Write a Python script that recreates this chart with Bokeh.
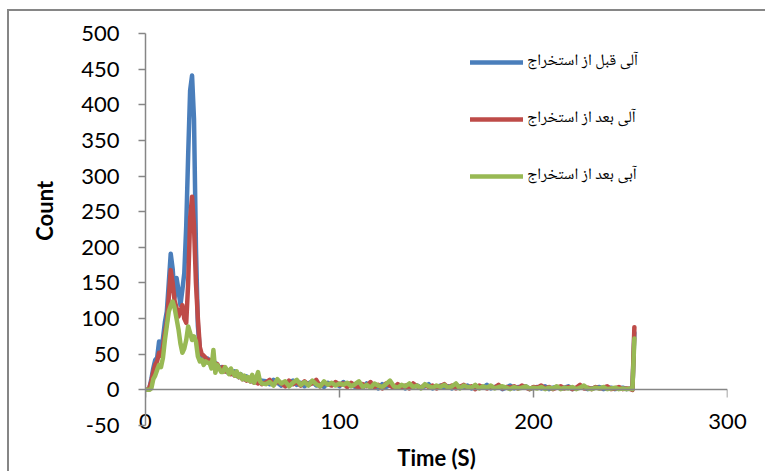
from bokeh.plotting import figure
from bokeh.models import (Range1d, LinearAxis, SingleIntervalTicker, Legend, LegendItem,
                          PrintfTickFormatter, ColumnDataSource)
from bokeh.embed import file_html
from bokeh.resources import INLINE

# ---------------- data ----------------
time_s = list(range(0, 61)) + list(range(62, 251, 2)) + [251, 252]

blue_head = [0, 0, 2, 15, 30, 42, 45, 68, 60, 72, 95, 110, 150, 191, 170, 130, 157, 140, 119, 140,
             164, 230, 330, 420, 441, 380, 200, 90, 56, 48, 45, 42, 44, 38, 40, 36, 38, 35, 30, 32,
             28, 30, 25, 27, 24, 22, 26, 20, 18, 22, 17, 15, 19, 14, 16, 12, 15, 11, 18, 10, 13]
blue_tail = [12, 8, 14, 10, 6, 11, 9, 13, 7, 10, 5, 9, 12, 6, 8, 4, 10, 7, 9, 5,
             11, 6, 8, 4, 7, 3, 9, 5, 6, 2, 8, 4, 7, 3, 6, 5, 2, 7, 4, 6, 3, 5, 8, 2, 4,
             6, 3, 5, 2, 7, 4, 3, 6, 2, 5, 4, 3, 7, 2, 4, 5, 1, 3, 6, 2, 4, 3, 5, 1, 3,
             4, 2, 5, 1, 3, 4, 2, 3, 5, 1, 2, 4, 3, 1, 2, 3, 4, 1, 2, 3, 1, 2, 3, 1, 2,
             1, 80]

red_head = [0, 0, 3, 12, 25, 35, 40, 52, 48, 60, 80, 95, 130, 168, 150, 125, 115, 103, 110, 119,
            100, 94, 150, 240, 271, 230, 150, 100, 60, 50, 48, 45, 40, 42, 38, 35, 33, 36, 30, 28,
            32, 26, 28, 24, 22, 25, 20, 22, 18, 20, 15, 17, 13, 16, 12, 14, 10, 13, 9, 12, 8]
red_tail = [10, 14, 7, 12, 9, 5, 13, 8, 11, 6, 12, 7, 9, 14, 5, 10, 8, 6, 11, 7,
            9, 4, 10, 6, 3, 8, 5, 11, 4, 7, 2, 9, 6, 3, 8, 4, 6, 2, 9, 5, 3, 7, 4, 6, 2,
            5, 8, 3, 6, 2, 4, 7, 3, 5, 1, 6, 4, 2, 5, 3, 7, 2, 4, 3, 5, 2, 6, 3, 1, 4,
            3, 6, 2, 4, 1, 3, 5, 2, 4, 1, 3, 7, 2, 3, 1, 4, 2, 3, 5, 1, 2, 4, 1, 2, 1,
            0, 88]

green_head = [0, 0, 0, 2, 15, 20, 28, 35, 32, 45, 70, 90, 110, 118, 124, 115, 100, 85, 65, 52,
              58, 70, 89, 80, 70, 75, 68, 47, 40, 42, 35, 40, 38, 38, 30, 56, 24, 35, 30, 25,
              25, 32, 28, 22, 30, 24, 20, 26, 18, 22, 15, 20, 14, 18, 12, 21, 10, 16, 25, 12, 9]
green_tail = [8, 11, 6, 15, 9, 12, 5, 10, 14, 7, 11, 6, 13, 8, 5, 12, 7, 10, 6, 9,
              7, 10, 5, 8, 12, 4, 7, 3, 9, 6, 4, 8, 13, 5, 3, 7, 5, 9, 4, 6, 2, 8, 5, 3, 6,
              4, 7, 3, 5, 9, 2, 6, 4, 3, 7, 2, 5, 3, 6, 2, 4, 5, 3, 1, 4, 2, 3, 5, 2, 3,
              2, 4, 1, 3, 2, 5, 1, 3, 2, 4, 1, 3, 6, 2, 1, 3, 2, 4, 1, 2, 3, 1, 2, 1, 2,
              1, 72]

series_names = ["آلی قبل از استخراج", "آلی بعد از استخراج", "آبی بعد از استخراج"]
series_colors = ["#4A7EBB", "#BE4B48", "#98B954"]
x_ticks_interval = 100
y_ticks_interval = 50

source = ColumnDataSource(dict(
    t=time_s,
    blue=blue_head + blue_tail,
    red=red_head + red_tail,
    green=green_head + green_tail,
))

AXIS = "#868686"
FONT = "Lato"

p = figure(width=758, height=462, output_backend="svg", toolbar_location=None,
           x_range=Range1d(0, 300), y_range=Range1d(-50, 500),
           x_axis_location=None, y_axis_location=None,
           min_border_left=136, min_border_right=40, min_border_top=22, min_border_bottom=48,
           styles={"border-left": "2px solid #868686", "border-top": "2px solid #868686",
                   "margin-left": "7px", "margin-top": "9px"})
p.outline_line_color = None
p.xgrid.visible = False
p.ygrid.visible = False

# y axis
yax = LinearAxis(ticker=SingleIntervalTicker(interval=y_ticks_interval, num_minor_ticks=0),
                 formatter=PrintfTickFormatter(format="%d"))
yax.axis_line_color = AXIS
yax.axis_line_width = 1.5
yax.major_tick_line_color = AXIS
yax.major_tick_line_width = 1.5
yax.major_tick_out = 7
yax.major_tick_in = 0
yax.minor_tick_line_color = None
yax.major_label_standoff = 19
yax.major_label_text_font = FONT
yax.major_label_text_font_size = "22px"
yax.major_label_text_color = "black"
yax.axis_label = "\u00a0" * 7 + "Count"
yax.axis_label_text_font = FONT
yax.axis_label_text_font_size = "22px"
yax.axis_label_text_font_style = "bold"
yax.axis_label_text_color = "black"
yax.axis_label_standoff = 20
p.add_layout(yax, "left")

# x axis labels (at bottom)
xlab = LinearAxis(ticker=SingleIntervalTicker(interval=x_ticks_interval, num_minor_ticks=0))
xlab.axis_line_color = None
xlab.major_tick_line_color = None
xlab.minor_tick_line_color = None
xlab.major_tick_out = 0
xlab.major_tick_in = 0
xlab.major_label_standoff = -12
xlab.major_label_text_font = FONT
xlab.major_label_text_font_size = "22px"
xlab.major_label_text_color = "black"
xlab.axis_label = "Time (S)"
xlab.axis_label_text_font = FONT
xlab.axis_label_text_font_size = "22px"
xlab.axis_label_text_font_style = "bold"
xlab.axis_label_text_color = "black"
xlab.axis_label_standoff = 12
p.add_layout(xlab, "below")

# x axis line + ticks crossing at y=0
xline = LinearAxis(ticker=SingleIntervalTicker(interval=x_ticks_interval, num_minor_ticks=0),
                   fixed_location=0)
xline.axis_line_color = AXIS
xline.axis_line_width = 1.5
xline.major_tick_line_color = AXIS
xline.major_tick_line_width = 1.5
xline.major_tick_in = 8
xline.major_tick_out = 0
xline.minor_tick_line_color = None
xline.major_label_text_font_size = "0px"
xline.major_label_text_alpha = 0
p.add_layout(xline, "above")

renderers = []
for col, color in zip(["blue", "red", "green"], series_colors):
    r = p.line("t", col, source=source, line_color=color, line_width=4.5,
               line_join="round", line_cap="round")
    renderers.append(r)

legend = Legend(items=[LegendItem(label=n, renderers=[r]) for n, r in zip(series_names, renderers)],
                location=(325, 236))
legend.glyph_width = 53
legend.glyph_height = 20
legend.label_height = 20
legend.spacing = 30
legend.padding = 0
legend.margin = 0
legend.label_standoff = 4
legend.border_line_color = None
legend.background_fill_alpha = 0
legend.label_text_font = "Noto Naskh Arabic, Noto Sans Arabic, DejaVu Sans"
legend.label_text_font_size = "16px"
legend.label_text_color = "black"
p.add_layout(legend)

open("out.html", "w").write(file_html(p, INLINE))
